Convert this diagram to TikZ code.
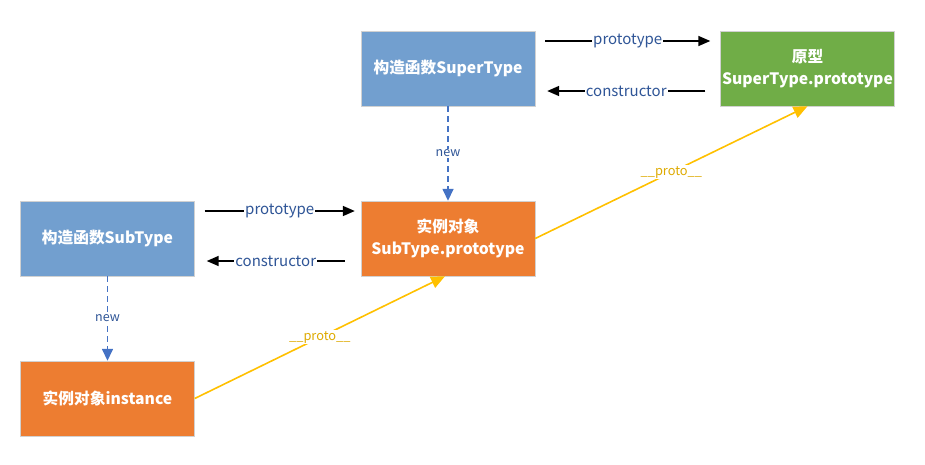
\documentclass[tikz,border=0pt]{standalone}
\usepackage{fontspec}
\setmainfont{Noto Sans CJK SC}
\usepackage{tikz}
\usetikzlibrary{arrows.meta}

\definecolor{ctorblue}{RGB}{114,159,207}
\definecolor{protogreen}{RGB}{112,173,71}
\definecolor{objorange}{RGB}{237,125,49}
\definecolor{linkyellow}{RGB}{255,192,0}
\definecolor{labelyellow}{RGB}{222,170,0}
\definecolor{newblue}{RGB}{68,114,196}
\definecolor{labelblue}{RGB}{47,85,151}

\tikzset{
	box/.style={draw=black!18, minimum width=174pt, minimum height=75pt, align=center,
		text=white, font=\fontsize{15.7}{22}\selectfont\bfseries, inner sep=0pt},
	link/.style={-{Triangle[length=12pt,width=10pt]}, color=black, line width=1.6pt},
	newlink/.style={-{Triangle[length=12pt,width=11pt]}, color=newblue, line width=1.5pt, dash pattern=on 6pt off 4pt},
	protolink/.style={-{Triangle[length=14pt,width=12pt]}, color=linkyellow, line width=1.6pt},
	lbl/.style={fill=white, inner sep=1pt, text=labelblue, font=\fontsize{15}{17}\selectfont},
	newlbl/.style={fill=white, inner sep=1pt, text=labelblue, font=\fontsize{12.5}{14}\selectfont},
	protolbl/.style={fill=white, inner sep=1pt, text=labelyellow, font=\fontsize{12.8}{15}\selectfont}
}

\begin{document}
\begin{tikzpicture}[x=1pt,y=-1pt]
		\useasboundingbox (0,0) rectangle (925,464);
		\node[box,fill=ctorblue] (superctor) at (448, 68.5) {构造函数SuperType};
		\node[box,fill=protogreen] (superproto) at (807.5, 68.5) {原型\\SuperType.prototype};
		\node[box,fill=ctorblue] (subctor) at (107.5, 238.5) {构造函数SubType};
		\node[box,fill=objorange] (subproto) at (448, 238.5) {实例对象\\SubType.prototype};
		\node[box,fill=objorange] (inst) at (107.5, 398.5) {实例对象instance};
		
		\draw[link] ([shift={(10pt,27.5pt)}]superctor.east) -- node[lbl] {prototype} ([shift={(-10pt,27.5pt)}]superproto.west);
		\draw[link] ([shift={(-15pt,-22.5pt)}]superproto.west) -- node[lbl] {constructor} ([shift={(12pt,-22.5pt)}]superctor.east);
		\draw[link] ([shift={(10pt,27.5pt)}]subctor.east) -- node[lbl] {prototype} ([shift={(-6pt,27.5pt)}]subproto.west);
		\draw[link] ([shift={(-16pt,-22.5pt)}]subproto.west) -- node[lbl] {constructor} ([shift={(12pt,-22.5pt)}]subctor.east);
		
		\draw[newlink] (superctor.south) -- node[newlbl] {new} (subproto.north);
		\draw[newlink] (subctor.south) -- node[newlbl] {new} (inst.north);
		
		\draw[protolink] (inst.east) -- node[protolbl] {\_\_proto\_\_} ([xshift=-3pt]subproto.south);
		\draw[protolink] (subproto.east) -- node[protolbl] {\_\_proto\_\_} (superproto.south);
		\end{tikzpicture}
\end{document}
